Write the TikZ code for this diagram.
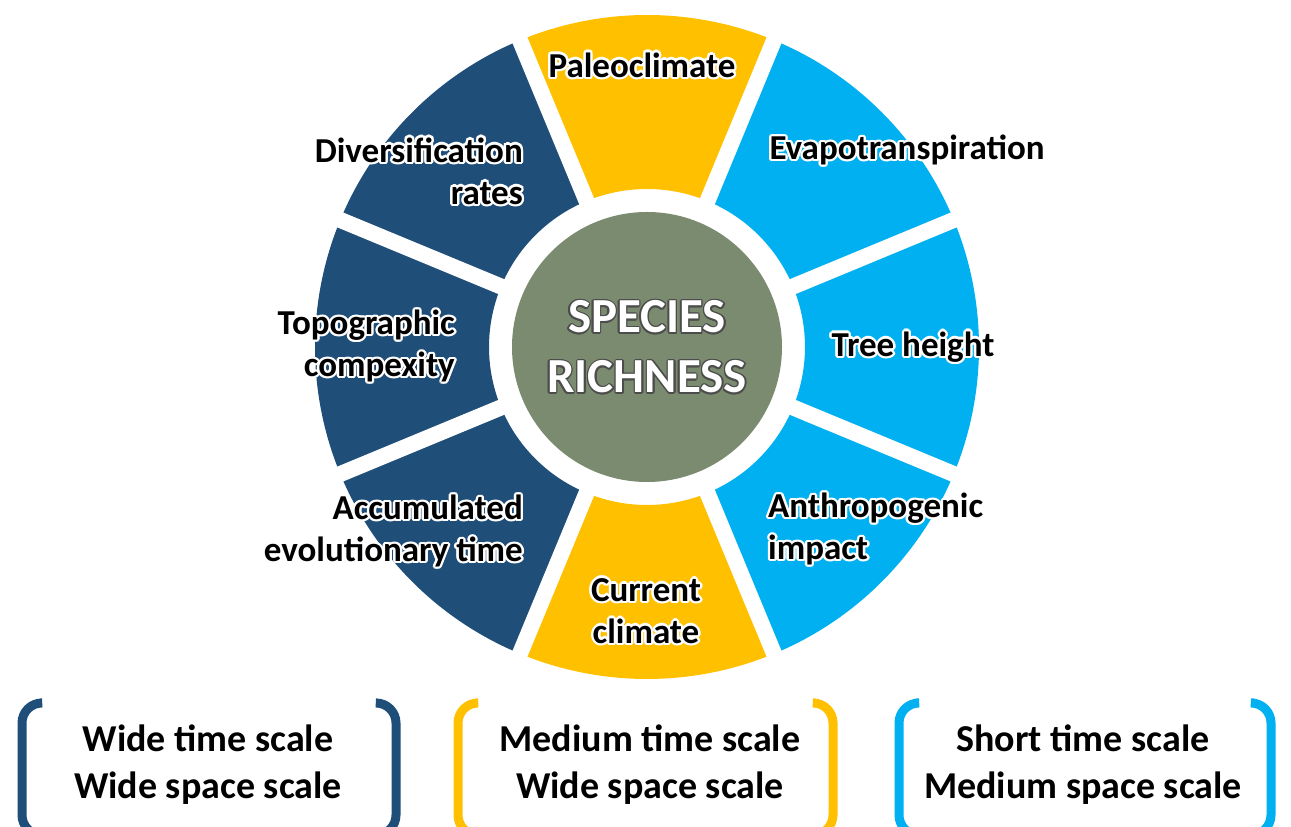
\documentclass[tikz,border=0pt]{standalone}
\usepackage{fontspec}
\setmainfont{Carlito}
\definecolor{navy}{RGB}{31,78,121}
\definecolor{gold}{RGB}{255,192,0}
\definecolor{sky}{RGB}{0,176,240}
\definecolor{sage}{RGB}{123,139,111}

% text with a soft outline: copies of the text in a ring behind it
\newcommand\glow[3][white]{\leavevmode\rlap{\color{#1}\foreach \ang in {0,30,...,330}{\rlap{\kern\fpeval{#2*cosd(\ang)}pt\raisebox{\fpeval{#2*sind(\ang)}pt}{#3}}}}#3}

\begin{document}
\begin{tikzpicture}[x=1pt,y=1pt,
  seglabel/.style={font=\fontsize{35}{42}\selectfont\bfseries, inner sep=0pt},
  scalelabel/.style={font=\fontsize{38}{47}\selectfont\bfseries, align=center, inner sep=0pt},
  bracket/.style={line width=9pt, rounded corners=20pt, line cap=round}]
\useasboundingbox (0,0) rectangle (1291,827);
\clip (0,0) rectangle (1291,827);
\coordinate (C) at (647,480);

% ring of eight sectors
\foreach \m/\col in {90/gold,45/sky,0/sky,-45/sky,-90/gold,-135/navy,180/navy,135/navy}{
  \pgfmathsetmacro\aa{\m-22.5}
  \pgfmathsetmacro\bb{\m+22.5}
  \fill[\col] ([shift={(C)}]\aa:332) arc[start angle=\aa, end angle=\bb, radius=332]
    -- ([shift={(C)}]\bb:158) arc[start angle=\bb, end angle=\aa, radius=158] -- cycle;
}
% white gaps between sectors
\foreach \g in {22.5,67.5,...,337.5}
  \draw[white, line width=16pt] ([shift={(C)}]\g:140) -- ([shift={(C)}]\g:350);

% centre disc
\node[circle, fill=sage, minimum size=270pt, inner sep=0pt, text=white, align=center,
      font=\fontsize{49}{60}\selectfont\bfseries] (core) at (C)
  {\glow[black!70]{1.5}{SPECIES}\\\glow[black!70]{1.5}{RICHNESS}};

% sector labels
\node[seglabel] (paleo) at (642,762) {\glow{2.4}{Paleoclimate}};
\node[seglabel] (evapo) at (907,677) {\glow{2.4}{Evapotranspiration}};
\node[seglabel, align=right, anchor=east] (diver) at (523,656) {\glow{2.4}{Diversification}\\\glow{2.4}{rates}};
\node[seglabel, align=right, anchor=east] (topo) at (455,481) {\glow{2.4}{Topographic}\\\glow{2.4}{compexity}};
\node[seglabel] (tree) at (913,480) {\glow{2.4}{Tree height}};
\node[seglabel, align=left, anchor=west] (anthro) at (768,298) {\glow{2.4}{Anthropogenic}\\\glow{2.4}{impact}};
\node[seglabel, align=right, anchor=east] (accum) at (523,296) {\glow{2.4}{Accumulated}\\\glow{2.4}{evolutionary time}};
\node[seglabel, align=center] (curr) at (646,216) {\glow{2.4}{Current}\\\glow{2.4}{climate}};

% scale brackets
\draw[bracket, navy] (40,124) -- (22,124) -- (22,-8) -- (40,-8);
\draw[bracket, navy] (377,124) -- (396,124) -- (396,-8) -- (377,-8);
\draw[bracket, gold] (476,124) -- (458,124) -- (458,-8) -- (476,-8);
\draw[bracket, gold] (815,124) -- (833,124) -- (833,-8) -- (815,-8);
\draw[bracket, sky] (916,124) -- (899,124) -- (899,-8) -- (916,-8);
\draw[bracket, sky] (1254,124) -- (1271,124) -- (1271,-8) -- (1254,-8);

\node[scalelabel] (wide) at (208,62) {Wide time scale\\Wide space scale};
\node[scalelabel] (medium) at (650,62) {Medium time scale\\Wide space scale};
\node[scalelabel] (short) at (1083,62) {Short time scale\\Medium space scale};
\end{tikzpicture}
\end{document}
